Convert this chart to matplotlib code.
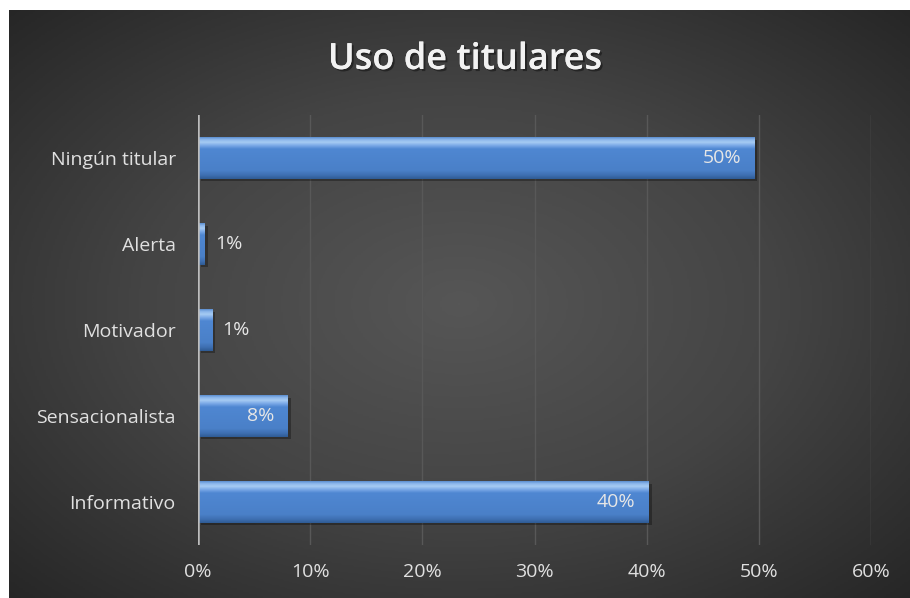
import numpy as np
import matplotlib
matplotlib.use('Agg')
import matplotlib.pyplot as plt
import matplotlib.patheffects as pe
from matplotlib.colors import LinearSegmentedColormap

# datos del grafico
categorias = ['Informativo', 'Sensacionalista', 'Motivador', 'Alerta', 'Ningún titular']
valores = [40.2, 8.0, 1.25, 0.6, 49.6]
etiquetas = ['40%', '8%', '1%', '1%', '50%']
ticks = [0, 10, 20, 30, 40, 50, 60]
titulo = 'Uso de titulares'

plt.rcParams['font.family'] = ['Open Sans', 'DejaVu Sans']

fig = plt.figure(figsize=(9.10, 5.98), dpi=100)
fig.patch.set_facecolor('white')

# fondo oscuro con degradado radial
bg = fig.add_axes([9 / 910, 0, 1 - 9 / 910, 1 - 10 / 598])
yy, xx = np.mgrid[0:1:300j, 0:1:450j]
r = np.sqrt(((xx - 0.5) / 0.75) ** 2 + ((yy - 0.5) / 0.75) ** 2)
r = np.clip(r / 0.95, 0, 1)
bgcmap = LinearSegmentedColormap.from_list('bg', ['#565656', '#444444', '#262626'])
bg.imshow(r, cmap=bgcmap, aspect='auto', extent=(0, 1, 0, 1), vmin=0, vmax=1)
bg.set_axis_off()

ax = fig.add_axes([198 / 910, 1 - 545 / 598, (871 - 198) / 910, (545 - 115) / 598])
ax.patch.set_alpha(0)
ax.set_xlim(0, 60)
ax.set_ylim(-0.5, 4.5)

pos = np.arange(len(categorias))
alto = 0.48

# sombra
ax.barh(pos - 0.03, valores, height=alto, left=0.25, color='black', alpha=0.3, zorder=2)
bars = ax.barh(pos, valores, height=alto, color='#4a80c8', zorder=3)

# degradado vertical de la barra (bisel)
grad = LinearSegmentedColormap.from_list('barra', [
    (0.0, '#2f5c95'), (0.08, '#3d6eb0'), (0.2, '#4a80c8'), (0.72, '#4f87d2'),
    (0.8, '#79a8e6'), (0.88, '#a6cbf3'), (0.95, '#8ab5ea'), (1.0, '#5d8fd0')])
g = np.linspace(0, 1, 100).reshape(-1, 1)
for b in bars:
    x0, y0 = b.get_x(), b.get_y()
    im = ax.imshow(g, cmap=grad, aspect='auto', origin='lower',
                   extent=(x0, x0 + b.get_width(), y0, y0 + b.get_height()), zorder=4)
    im.set_clip_path(b)
ax.set_xlim(0, 60)
ax.set_ylim(-0.5, 4.5)

# etiquetas de datos
for p, v, t in zip(pos, valores, etiquetas):
    if v > 5:
        ax.text(v - 1.2, p, t, ha='right', va='center', color='#e6e6e6', fontsize=14, zorder=5)
    else:
        ax.text(v + 0.9, p, t, ha='left', va='center', color='#e6e6e6', fontsize=14, zorder=5)

ax.set_yticks(pos)
ax.set_yticklabels(categorias, color='#e0e0e0', fontsize=14)
ax.set_xticks(ticks)
ax.set_xticklabels([str(t) + '%' for t in ticks], color='#e0e0e0', fontsize=14)
ax.tick_params(length=0)
ax.tick_params(axis='y', pad=16)
ax.tick_params(axis='x', pad=13)
for s in ax.spines.values():
    s.set_visible(False)
ax.grid(axis='x', color='#585858', linewidth=1.0, zorder=1)
ax.axvline(0, color='#bdbdbd', linewidth=1.8, zorder=5)

fig.text(465 / 910, 1 - 60 / 598, titulo, ha='center', va='center', color='#f2f2f2',
         fontsize=26, fontweight='semibold',
         path_effects=[pe.withSimplePatchShadow(offset=(1.5, -1.5), shadow_rgbFace='black', alpha=0.4), pe.Normal()])

fig.savefig('out.png', dpi=100, facecolor=fig.get_facecolor())
